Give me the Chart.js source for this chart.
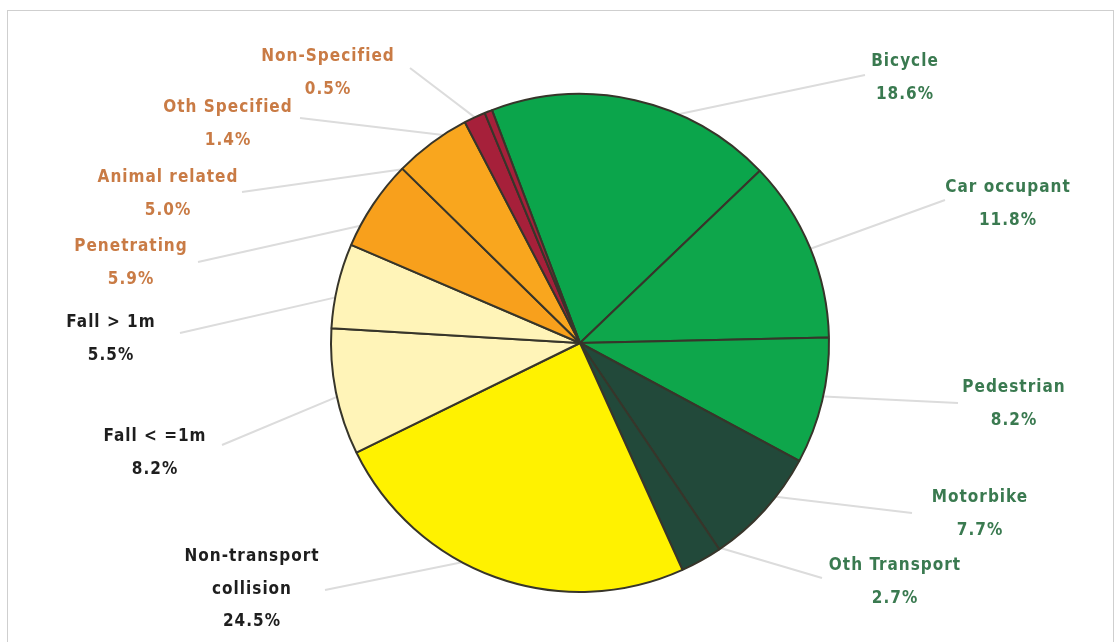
<!DOCTYPE html>
<html>
<head>
<meta charset="utf-8">
<script src="https://cdn.jsdelivr.net/npm/chart.js@4"></script>
<style>
  html, body { margin: 0; padding: 0; background: #fff; }
</style>
</head>
<body>
<canvas id="injury-pie" width="1117" height="642"></canvas>
<script>
// categories & values (percent)
const categories = ['Bicycle', 'Car occupant', 'Pedestrian', 'Motorbike', 'Oth Transport',
  ['Non-transport', 'collision'], 'Fall < =1m', 'Fall > 1m', 'Penetrating', 'Animal related',
  'Oth Specified', 'Non-Specified'];
const shares = [18.6, 11.8, 8.2, 7.7, 2.7, 24.5, 8.2, 5.5, 5.9, 5.0, 1.4, 0.5];
const sliceColors = ['#0ba54b', '#0ea64b', '#0ea64b', '#22493a', '#22493a', '#fff200',
  '#fff4b8', '#fff4b8', '#f8a01c', '#f9a61e', '#a6203a', '#a6203a'];
const textColors = ['#3a7a50', '#3a7a50', '#3a7a50', '#3a7a50', '#3a7a50', '#1e1e1e',
  '#1e1e1e', '#1e1e1e', '#c97b45', '#c97b45', '#c97b45', '#c97b45'];

// where each label sits (centre x, first line y) and where its leader line ends
const labelPos = [[905, 62], [1008, 188], [1014, 388], [980, 498], [895, 566], [252, 557],
  [155, 437], [111, 323], [131, 247], [168, 178], [228, 108], [328, 57]];
const leaderEnd = [[865, 75], [945, 200], [958, 403], [912, 513], [822, 578], [325, 590],
  [222, 445], [180, 333], [198, 262], [242, 192], [300, 118], [410, 68]];

const calloutPlugin = {
  id: 'callouts',
  beforeDatasetsDraw(chart) {
    const ctx = chart.ctx;
    const arcs = chart.getDatasetMeta(0).data;
    ctx.save();
    ctx.strokeStyle = '#dcdcdc';
    ctx.lineWidth = 2;
    arcs.forEach((arc, i) => {
      const mid = (arc.startAngle + arc.endAngle) / 2;
      const r = arc.outerRadius * 0.9;
      ctx.beginPath();
      ctx.moveTo(arc.x + Math.cos(mid) * r, arc.y + Math.sin(mid) * r);
      ctx.lineTo(leaderEnd[i][0], leaderEnd[i][1]);
      ctx.stroke();
    });
    ctx.restore();
  },
  afterDraw(chart) {
    const ctx = chart.ctx;
    ctx.save();
    // frame
    ctx.strokeStyle = '#cfcfcf';
    ctx.lineWidth = 1;
    ctx.strokeRect(7.5, 10.5, 1106, 650);

    ctx.font = 'bold 17px "DejaVu Sans Condensed", "DejaVu Sans"';
    ctx.letterSpacing = '1px';
    ctx.textAlign = 'center';
    ctx.textBaseline = 'middle';
    categories.forEach((name, i) => {
      const lines = (Array.isArray(name) ? name : [name]).concat(shares[i].toFixed(1) + '%');
      ctx.fillStyle = textColors[i];
      lines.forEach((t, j) => ctx.fillText(t, labelPos[i][0], labelPos[i][1] + j * 32.5));
    });
    ctx.restore();
  }
};

new Chart(document.getElementById('injury-pie'), {
  type: 'pie',
  data: {
    labels: categories,
    datasets: [{
      data: shares,
      backgroundColor: sliceColors,
      borderColor: '#37352a',
      borderWidth: 2
    }]
  },
  options: {
    responsive: false,
    animation: false,
    rotation: -20.7,
    layout: { padding: { left: 330, right: 287, top: 92, bottom: 48 } },
    plugins: {
      legend: { display: false },
      tooltip: { enabled: false }
    }
  },
  plugins: [calloutPlugin]
});
</script>
</body>
</html>
